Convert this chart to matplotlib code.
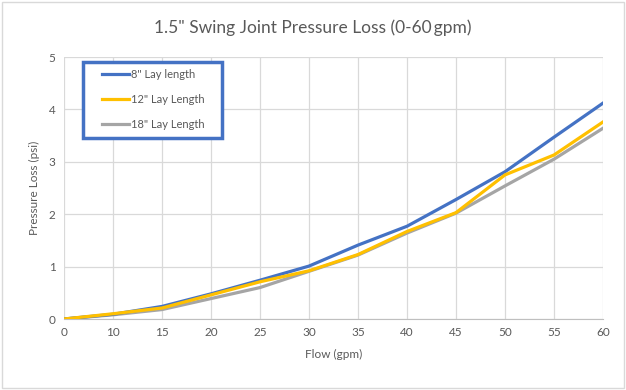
import matplotlib
matplotlib.use('Agg')
import matplotlib.pyplot as plt
from matplotlib.patches import Rectangle

# данные (категориальная ось, как в Excel)
flow = ['0', '10', '15', '20', '25', '30', '35', '40', '45', '50', '55', '60']
lay_8 = [0, 0.09, 0.24, 0.48, 0.74, 1.01, 1.41, 1.77, 2.28, 2.81, 3.47, 4.12]
lay_12 = [0, 0.10, 0.21, 0.46, 0.71, 0.92, 1.23, 1.67, 2.03, 2.75, 3.13, 3.76]
lay_18 = [0, 0.08, 0.18, 0.39, 0.60, 0.91, 1.22, 1.64, 2.02, 2.54, 3.05, 3.64]

plt.rcParams['font.family'] = ['Lato', 'DejaVu Sans']

fig = plt.figure(figsize=(6.26, 3.90), dpi=100)
ax = fig.add_axes([64 / 626, 1 - 319 / 390, 539 / 626, 262 / 390])

# рамка вокруг всего графика
fig.patches.append(Rectangle((0.003, 0.005), 0.994, 0.99, transform=fig.transFigure,
                             fill=False, edgecolor='#d9d9d9', linewidth=1))

pos = list(range(len(flow)))
ax.plot(pos, lay_8, color='#4472C4', linewidth=2.3, label='8" Lay length', zorder=3)
ax.plot(pos, lay_12, color='#FFC000', linewidth=2.3, label='12" Lay Length', zorder=3)
ax.plot(pos, lay_18, color='#A5A5A5', linewidth=2.3, label='18" Lay Length', zorder=2)

ax.set_xlim(0, len(flow) - 1)
ax.set_ylim(0, 5)
ax.set_xticks(pos)
ax.set_xticklabels(flow)
ax.set_yticks(range(6))
ax.grid(color='#d9d9d9', linewidth=0.9)
ax.set_axisbelow(True)
for s in ['top', 'right', 'left']:
    ax.spines[s].set_visible(False)
ax.spines['bottom'].set_color('#bfbfbf')
ax.tick_params(length=0, colors='#595959', labelsize=8.5, pad=6)

ax.set_xlabel('Flow (gpm)', color='#595959', fontsize=8.5, labelpad=8)
ax.set_ylabel('Pressure Loss (psi)', color='#595959', fontsize=8.5, labelpad=6)
fig.text(0.5, 0.93, '1.5" Swing Joint Pressure Loss (0-60\u2009gpm)', ha='center', va='center',
         color='#595959', fontsize=12.5)

# легенда без рамки + отдельная синяя рамка
leg = ax.legend(loc='upper left', bbox_to_anchor=(0.0705, 0.955), fontsize=8,
                frameon=False, labelspacing=1.27, handlelength=2.4,
                handletextpad=0.25, borderpad=0, borderaxespad=0)
for t in leg.get_texts():
    t.set_color('#595959')
ax.add_patch(Rectangle((0.0358, 0.690), 0.258, 0.291, transform=ax.transAxes,
                       fill=True, facecolor='white', edgecolor='#4472C4',
                       linewidth=2.5, zorder=4, clip_on=False))
leg.set_zorder(5)

plt.savefig('out.png', dpi=100)
plt.close()
